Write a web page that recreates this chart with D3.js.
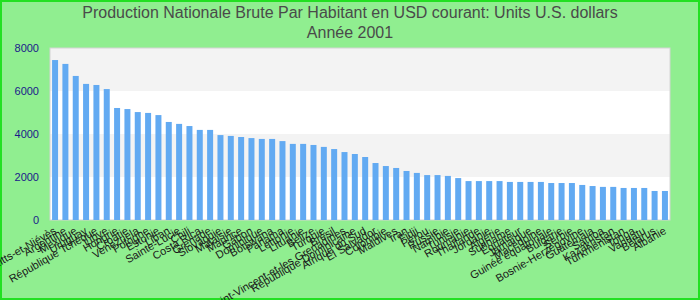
<!DOCTYPE html>
<html>
<head>
<meta charset="utf-8">
<script src="https://cdn.jsdelivr.net/npm/d3@7"></script>
<style>
  body { margin: 0; }
  text { font-family: "Liberation Sans", Arial, sans-serif; }
</style>
</head>
<body>
<div id="chart"></div>
<script>
// Chart data
var countries = [
  "Saint-Kitts-et-Niévès", "Argentine", "Mexique", "Uruguay", "République Tchèque",
  "Libye", "Hongrie", "Croatie", "Venezuela", "Pologne",
  "Estonie", "Liban", "Sainte-Lucie", "Chili", "Costa Rica",
  "Grenade", "Slovaquie", "Malaisie", "Maurice", "Gabon",
  "Dominique", "Botswana", "Panama", "Lettonie", "Lituanie",
  "Belize", "Turquie", "Brésil", "Saint-Vincent-et-les Grenadines", "République Dominicaine",
  "Afrique du Sud", "El Salvador", "Colombie", "Maldives", "Iran",
  "Fidji", "Pérou", "Russie", "Namibie", "Tunisie",
  "Roumanie", "Thaïlande", "Jordanie", "Algérie", "Suriname",
  "Équateur", "Jamaïque", "Macédoine", "Guinée équatoriale", "Bulgarie",
  "Serbie", "Bosnie-Herzégovine", "Guatemala", "Samoa", "Kazakhstan",
  "Turkménistan", "Tonga", "Vanuatu", "Bélarus", "Albanie"
];
var values = [
  7440, 7260, 6700, 6330, 6280, 6090, 5210, 5160, 5020, 4980,
  4880, 4560, 4470, 4370, 4190, 4190, 3950, 3910, 3860, 3810,
  3770, 3770, 3670, 3540, 3540, 3490, 3400, 3300, 3160, 3070,
  2930, 2650, 2510, 2420, 2280, 2190, 2090, 2090, 2050, 1950,
  1810, 1810, 1810, 1810, 1770, 1770, 1770, 1770, 1720, 1720,
  1720, 1630, 1580, 1540, 1540, 1490, 1490, 1490, 1350, 1350
];
var yTicks = [0, 2000, 4000, 6000, 8000];
var titleLines = [
  "Production Nationale Brute Par Habitant en USD courant: Units U.S. dollars",
  "Année 2001"
];

var svgWidth = 700;
var svgHeight = 300;
var margin = { top: 48, right: 30, bottom: 80, left: 50 };
var width = svgWidth - margin.left - margin.right;
var height = svgHeight - margin.top - margin.bottom;

var svg = d3.select("#chart")
  .append("svg")
  .attr("width", svgWidth)
  .attr("height", svgHeight);

// background
svg.append("rect")
  .attr("x", 1).attr("y", 1)
  .attr("width", svgWidth - 2).attr("height", svgHeight - 2)
  .attr("fill", "#90ee90")
  .attr("stroke", "#22e022")
  .attr("stroke-width", 2);

// title
svg.selectAll(".title")
  .data(titleLines)
  .enter()
  .append("text")
  .attr("class", "title")
  .attr("x", svgWidth / 2)
  .attr("y", (d, i) => 18 + i * 20)
  .attr("text-anchor", "middle")
  .attr("font-size", 16)
  .attr("fill", "#4a4a4a")
  .text(d => d);

var chartGroup = svg.append("g")
  .attr("transform", `translate(${margin.left}, ${margin.top})`);

var xScale = d3.scaleBand()
  .domain(countries)
  .range([0, width])
  .paddingInner(0.42)
  .paddingOuter(0.2);

var yScale = d3.scaleLinear()
  .domain([0, 8000])
  .range([height, 0]);

// alternating bands
var bands = d3.pairs(yTicks);
chartGroup.selectAll(".band")
  .data(bands)
  .enter()
  .append("rect")
  .attr("x", 0)
  .attr("width", width)
  .attr("y", d => yScale(d[1]))
  .attr("height", d => yScale(d[0]) - yScale(d[1]))
  .attr("fill", (d, i) => i % 2 === 0 ? "#ffffff" : "#f3f3f3");

chartGroup.append("rect")
  .attr("width", width)
  .attr("height", height)
  .attr("fill", "none")
  .attr("stroke", "#d4d4d4")
  .attr("stroke-width", 1);

// bars
chartGroup.selectAll(".bar")
  .data(values)
  .enter()
  .append("rect")
  .attr("class", "bar")
  .attr("x", (d, i) => xScale(countries[i]))
  .attr("width", xScale.bandwidth())
  .attr("y", d => yScale(d))
  .attr("height", d => height - yScale(d))
  .attr("fill", "#62aaf2");

// y axis
var leftAxis = d3.axisLeft(yScale)
  .tickValues(yTicks)
  .tickFormat(d3.format("d"))
  .tickSize(0)
  .tickPadding(11);
var yAxisG = chartGroup.append("g").call(leftAxis);
yAxisG.select(".domain").remove();
yAxisG.selectAll("text")
  .attr("font-size", 11)
  .attr("fill", "#1a1a8a")
  .style("font-family", "'Liberation Sans', Arial, sans-serif");

// x labels
chartGroup.selectAll(".xlabel")
  .data(countries)
  .enter()
  .append("text")
  .attr("class", "xlabel")
  .attr("text-anchor", "end")
  .attr("font-size", 11)
  .attr("fill", "#1a1a1a")
  .attr("transform", d => `translate(${xScale(d) + xScale.bandwidth() / 2 + 2}, ${height + 13}) rotate(-30)`)
  .text(d => d);
</script>
</body>
</html>
